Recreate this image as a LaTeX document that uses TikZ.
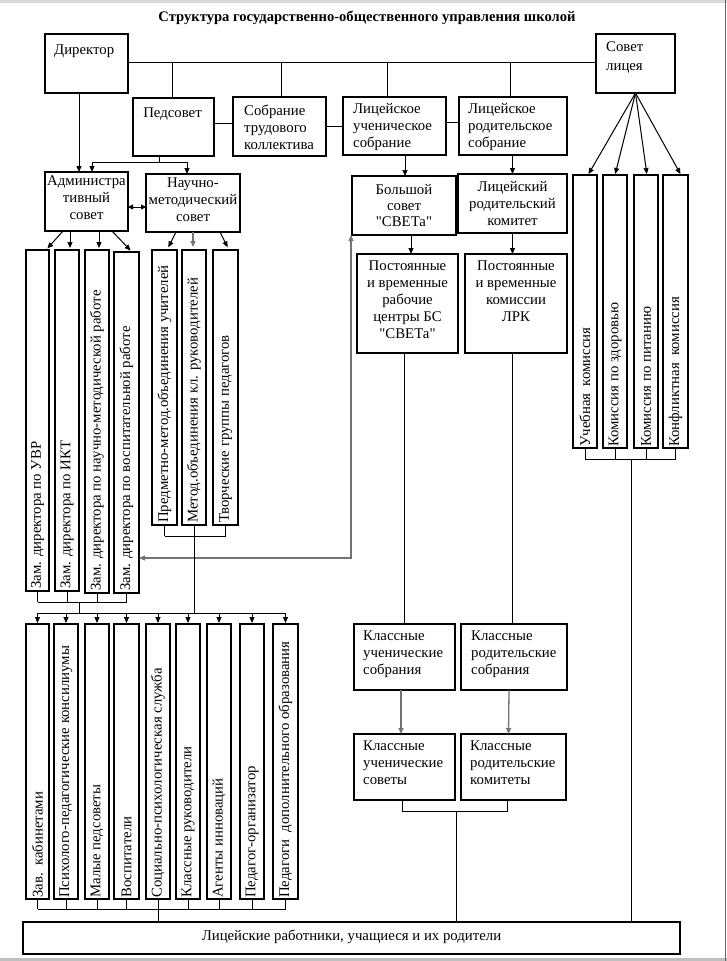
\documentclass[tikz,border=0pt]{standalone}
\usepackage{fontspec}
\setmainfont{Liberation Serif}
\usetikzlibrary{arrows.meta,calc}
\newcommand\bx[5]{\node[box,anchor=north west,minimum width={#4-#2},minimum height={#5-#3}] (#1) at (#2,#3) {};}
\newcommand\qq{\textquotedbl}
\tikzset{
 box/.style={draw, line width=1.3pt, inner sep=0pt, outer sep=0pt, rectangle},
 txt/.style={inner sep=0pt, font=\fontsize{14.8}{17}\selectfont, execute at begin node=\strut},
 tl/.style={txt, anchor=north west, align=left},
 tc/.style={txt, anchor=north, align=center},
 vt/.style={inner sep=0pt, font=\fontsize{14.8}{17}\selectfont, rotate=90, anchor=west},
 ln/.style={line width=1pt},
 arr/.style={ln, -{Triangle[length=6pt,width=5pt]}},
 garr/.style={line width=1.3pt, draw=black!55, {Triangle[length=6pt,width=5pt]}-{Triangle[length=6pt,width=5pt]}},
 gar/.style={line width=1.3pt, draw=black!55, -{Triangle[length=6pt,width=5pt]}},
}
\begin{document}
\begin{tikzpicture}[x=1pt,y=-1pt]
\useasboundingbox (0,0) rectangle (727,961);
% page edges
\fill[black!15] (0,0) rectangle (727,3);
\fill[black!25] (0,957.5) rectangle (727,961);
\draw[black!60, line width=1.5pt] (725.5,0) -- (725.5,961);
% title
\node[font=\bfseries\fontsize{14.6}{16}\selectfont, anchor=base, inner sep=0pt] (title) at (367,21) {Структура государственно-общественного управления школой};
% top row boxes
\bx{dir}{45}{34}{128}{93}
\bx{sl}{596}{34}{675}{93}
\bx{ped}{133}{98}{214}{156}
\bx{sob}{233}{97}{326}{156}
\bx{lu}{343}{97}{446}{155}
\bx{lr}{459}{97}{567}{155}
\node[tl] (tdir) at ([shift={(9,8)}]dir.north west) {Директор};
\node[tl] (tsl) at ([shift={(10,7)}]sl.north west) {Совет\\[2pt]лицея};
\node[tc] (tped) at ([shift={(-1,7)}]ped.north) {Педсовет};
\node[tl] (tsob) at ([shift={(11,8)}]sob.north west) {Собрание\\трудового\\коллектива};
\node[tl] (tlu) at ([shift={(10,6)}]lu.north west) {Лицейское\\ученическое\\собрание};
\node[tl] (tlr) at ([shift={(9,6)}]lr.north west) {Лицейское\\родительское\\собрание};
% second row
\bx{adm}{45}{172}{128}{231}
\bx{nm}{146}{174}{240}{232}
\bx{bs}{352}{176}{456}{235}
\bx{lrk}{458}{174}{567}{233}
\node[tc] (tadm) at ([shift={(0,4)}]adm.north) {Администра\\тивный\\совет};
\node[tc] (tnm) at ([shift={(0,4)}]nm.north) {Научно-\\методический\\совет};
\node[tc] (tbs) at ([shift={(0,8)}]bs.north) {Большой\\[-1pt]совет\\[-1pt]\qq СВЕТа\qq};
\node[tc] (tlrk) at ([shift={(0,7)}]lrk.north) {Лицейский\\родительский\\комитет};
% third row right
\bx{pc}{357}{254}{458}{353}
\bx{lrkc}{465}{254}{567}{353}
\node[tc] (tpc) at ([shift={(0,7)}]pc.north) {Постоянные\\и временные\\рабочие\\центры БС\\\qq СВЕТа\qq};
\node[tc] (tlrkc) at ([shift={(0,7)}]lrkc.north) {Постоянные\\и временные\\комиссии\\ЛРК};
% zam boxes
\bx{zam1}{26}{250}{49}{591}
\bx{zam2}{55}{250}{79}{591}
\bx{zam3}{85}{250}{109}{593}
\bx{zam4}{114}{252}{139}{593}
\node[vt] (tz1) at ([yshift=2pt]zam1.south) {Зам. директора по УВР};
\node[vt] (tz2) at ([yshift=2pt]zam2.south) {Зам. директора по ИКТ};
\node[vt] (tz3) at ([yshift=2pt]zam3.south) {Зам. директора по научно-методической работе};
\node[vt] (tz4) at ([yshift=2pt]zam4.south) {Зам. директора по воспитательной работе};
% method boxes
\bx{m1}{152}{250}{177}{525}
\bx{m2}{182}{250}{206}{525}
\bx{m3}{213}{250}{238}{525}
\node[vt] (tm1) at ([yshift=2pt]m1.south) {Предметно-метод.объединения учителей};
\node[vt] (tm2) at ([yshift=2pt]m2.south) {Метод.объединения кл. руководителей};
\node[vt] (tm3) at ([yshift=2pt]m3.south) {Творческие группы педагогов};
% commissions
\bx{c1}{573}{175}{597}{448}
\bx{c2}{603}{175}{627}{448}
\bx{c3}{634}{175}{658}{448}
\bx{c4}{663}{175}{688}{448}
\node[vt] (tc1) at ([yshift=1pt]c1.south) {Учебная\ \ комиссия};
\node[vt] (tc2) at ([yshift=1pt]c2.south) {Комиссия по здоровью};
\node[vt] (tc3) at ([yshift=1pt]c3.south) {Комиссия по питанию};
\node[vt] (tc4) at ([yshift=1pt]c4.south) {Конфликтная\ \ комиссия};
% bottom row
\bx{b1}{26}{624}{49}{899}
\bx{b2}{54}{624}{78}{899}
\bx{b3}{85}{624}{109}{899}
\bx{b4}{114}{624}{139}{899}
\bx{b5}{146}{624}{170}{899}
\bx{b6}{176}{624}{200}{899}
\bx{b7}{207}{624}{231}{899}
\bx{b8}{240}{624}{264}{899}
\bx{b9}{273}{624}{298}{899}
\node[vt] (tb1) at ([yshift=1pt]b1.south) {Зав.\ \ кабинетами};
\node[vt] (tb2) at ([yshift=1pt]b2.south) {Психолого-педагогические консилиумы};
\node[vt] (tb3) at ([yshift=1pt]b3.south) {Малые педсоветы};
\node[vt] (tb4) at ([yshift=1pt]b4.south) {Воспитатели};
\node[vt] (tb5) at ([yshift=1pt]b5.south) {Социально-психологическая служба};
\node[vt] (tb6) at ([yshift=1pt]b6.south) {Классные руководители};
\node[vt] (tb7) at ([yshift=1pt]b7.south) {Агенты инноваций};
\node[vt] (tb8) at ([yshift=1pt]b8.south) {Педагог-организатор};
\node[vt] (tb9) at ([yshift=1pt]b9.south) {Педагоги\ \ дополнительного образования};
% class boxes
\bx{ks}{354}{624}{455}{690}
\bx{kr}{461}{624}{567}{690}
\bx{kss}{354}{734}{455}{800}
\bx{krk}{461}{734}{566}{800}
\node[tl] (tks) at ([shift={(9,7)}]ks.north west) {Классные\\ученические\\собрания};
\node[tl] (tkr) at ([shift={(10,7)}]kr.north west) {Классные\\родительские\\собрания};
\node[tl] (tkss) at ([shift={(9,7)}]kss.north west) {Классные\\ученические\\советы};
\node[tl] (tkrk) at ([shift={(9,7)}]krk.north west) {Классные\\родительские\\комитеты};
% bottom box
\bx{bot}{23}{922}{680}{954}
\node[tc] (tbot) at ([shift={(0,6)}]bot.north) {Лицейские работники, учащиеся и их родители};
% ---- connectors ----
\coordinate (tjy) at (0,613);
\coordinate (zjy) at (0,602);
\coordinate (mjy) at (0,536);
\coordinate (bjy) at (0,909);
\coordinate (cjy) at (0,459);
\coordinate (kjy) at (0,811);
\coordinate (gy) at (0,558);
% top line
\draw[ln] ([yshift=1.5pt]dir.east) -- ([yshift=1.5pt]sl.west);
\draw[ln] ([xshift=-1.5pt]ped.north) -- ([xshift=-1.5pt]ped.north |- 0,62);
\draw[ln] ([xshift=1.5pt]sob.north) -- ([xshift=1.5pt]sob.north |- 0,62);
\draw[ln] ([xshift=-7.5pt]lu.north) -- ([xshift=-7.5pt]lu.north |- 0,62);
\draw[ln] ([xshift=-3pt]lr.north) -- ([xshift=-3pt]lr.north |- 0,62);
\draw[ln] ([yshift=4pt]ped.east) -- ([yshift=4pt]ped.east -| sob.west);
\draw[ln] (sob.east) -- (sob.east -| lu.west);
\draw[ln] ([yshift=4pt]lu.east) -- ([yshift=4pt]lu.east -| lr.west);
% director / pedsovet
\draw[arr] ([xshift=-7.5pt]dir.south) -- ([xshift=-7.5pt]adm.north);
\draw[ln] ([xshift=-14.5pt]ped.south) -- ++(0,6) coordinate (pj);
\draw[arr] (pj) -| ([xshift=5.5pt]adm.north);
\draw[arr] (pj) -| ([xshift=-6pt]nm.north);
\draw[ln, {Triangle[length=5pt,width=5pt]}-{Triangle[length=5pt,width=5pt]}] ([yshift=-5.5pt]adm.east) -- ([yshift=-5.5pt]adm.east -| nm.west);
% adm -> zam
\draw[arr, shorten >=2pt] ([xshift=18pt]adm.south west) -- ([xshift=20pt]zam1.north west);
\draw[arr, shorten >=2pt] ([xshift=25pt]adm.south west) -- ([xshift=25pt]adm.south west |- zam2.north);
\draw[arr, shorten >=2pt] ([xshift=54pt]adm.south west) -- ([xshift=54pt]adm.south west |- zam3.north);
\draw[arr, shorten >=2pt] ([xshift=67pt]adm.south west) -- ([xshift=18pt]zam4.north west);
% nm -> methods
\draw[arr, shorten >=3pt] ([xshift=30pt]nm.south west) -- ([xshift=15pt]m1.north west);
\draw[gar, shorten >=3pt] (nm.south) -- (nm.south |- m2.north);
\draw[arr, shorten >=3pt] ([xshift=74pt]nm.south west) -- ([xshift=16pt]m3.north west);
% sovet liceya -> commissions
\draw[arr, shorten >=1pt] (sl.south) -- ([xshift=15pt]c1.north west);
\draw[arr, shorten >=1pt] (sl.south) -- ([xshift=12pt]c2.north west);
\draw[arr, shorten >=1pt] (sl.south) -- ([xshift=13pt]c3.north west);
\draw[arr, shorten >=1pt] (sl.south) -- ([xshift=18pt]c4.north west);
% right column
\draw[arr] ([xshift=1pt]bs.north |- lu.south) -- ([xshift=1pt]bs.north);
\draw[arr] (lrk.north |- lr.south) -- (lrk.north);
\draw[arr] ([xshift=3.5pt]pc.north |- bs.south) -- ([xshift=3.5pt]pc.north);
\draw[arr] (lrk.south) -- (lrk.south |- lrkc.north);
\draw[ln] (ks.north |- pc.south) -- (ks.north);
\draw[ln] ([xshift=-2pt]kr.north |- lrkc.south) -- ([xshift=-2pt]kr.north);
\draw[gar] ([xshift=-3.5pt]ks.south) -- ([xshift=-3.5pt]kss.north);
\draw[gar] ([xshift=-5pt]kr.south) -- ([xshift=-5pt]krk.north);
% big gray double arrow
\draw[garr] (zam4.east |- gy) -| ([xshift=-1pt]bs.south west);
% zam bracket
\foreach \i in {1,...,4} \draw[ln] (zam\i.south) -- (zam\i.south |- zjy);
\draw[ln] (zam1.south |- zjy) -- (zam4.south |- zjy);
\draw[ln] ([xshift=12pt]zam2.south |- zjy) -- ([xshift=12pt]zam2.south |- tjy);
% method bracket
\foreach \i in {1,...,3} \draw[ln] (m\i.south) -- (m\i.south |- mjy);
\draw[ln] (m1.south |- mjy) -- (m3.south |- mjy);
\draw[ln] (m2.south |- mjy) -- (m2.south |- tjy);
% arrows to bottom row
\draw[ln] (b1.north |- tjy) -- (b9.north |- tjy);
\foreach \i in {1,...,9} \draw[arr, shorten >=1pt] (b\i.north |- tjy) -- (b\i.north);
% bottom row bracket
\foreach \i in {1,...,9} \draw[ln] (b\i.south) -- (b\i.south |- bjy);
\draw[ln] (b1.south |- bjy) -- (b9.south |- bjy);
\draw[ln] (b5.south |- bjy) -- (b5.south |- bot.north);
% commission bracket
\foreach \i in {1,...,4} \draw[ln] (c\i.south) -- (c\i.south |- cjy);
\draw[ln] (c1.south |- cjy) -- (c4.south |- cjy);
\draw[ln] ([xshift=16pt]c2.south |- cjy) -- ([xshift=16pt]c2.south |- bot.north);
% class bracket
\draw[ln] ([xshift=-2pt]kss.south) -- ([xshift=-2pt]kss.south |- kjy) -- ([xshift=-6pt]krk.south |- kjy) -- ([xshift=-6pt]krk.south);
\draw[ln] ([xshift=51.5pt]kss.south |- kjy) -- ([xshift=51.5pt]kss.south |- bot.north);
\end{tikzpicture}
\end{document}
